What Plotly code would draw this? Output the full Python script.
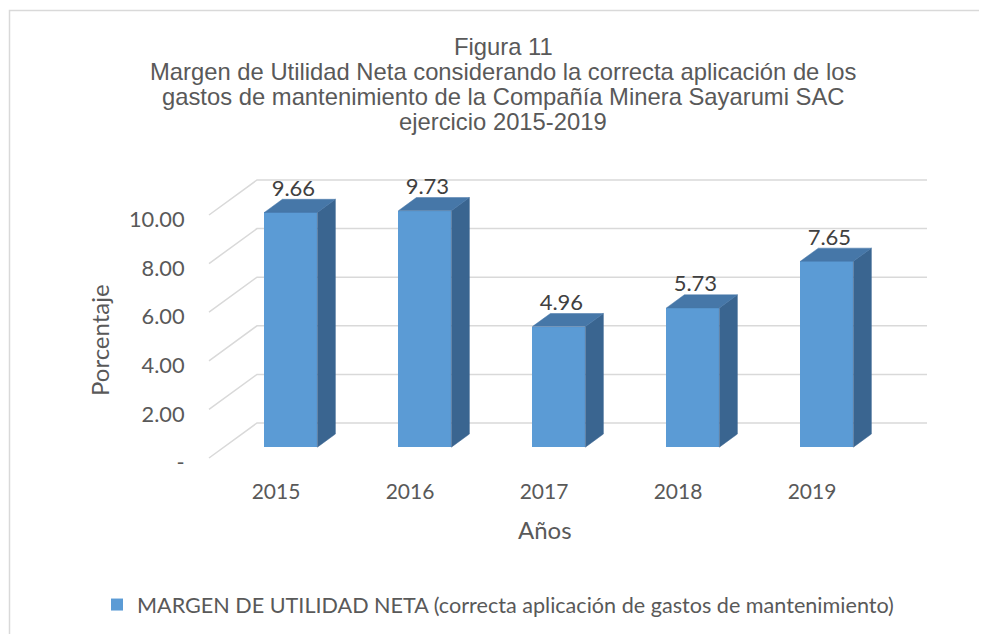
import plotly.graph_objects as go

# ---------------- data ----------------
years = ["2015", "2016", "2017", "2018", "2019"]
margen = [9.66, 9.73, 4.96, 5.73, 7.65]
y_ticks = [0, 2, 4, 6, 8, 10]
y_ticktext = ["-", "2.00", "4.00", "6.00", "8.00", "10.00"]
series_name = "MARGEN DE UTILIDAD NETA (correcta aplicación de gastos de mantenimiento)"
title_lines = [
    "Figura 11",
    "Margen de Utilidad Neta considerando la correcta aplicación de los",
    "gastos de mantenimiento de la Compañía Minera Sayarumi SAC",
    "ejercicio 2015-2019",
]
x_title = "Años"
y_title = "Porcentaje"

# ---------------- geometry / style ----------------
W, H = 987, 634
OFF = 8                           # page body margin
PX_X, PX_Y = 134.0, 24.3          # pixels per category / per unit
X0PX, Y0PX = 209.0, 458.0         # page pixel of floor front-left corner (x=-0.5, y=0)
PL, PR, PT, PB = 194, 948, 150, 466   # plot area, page pixels
DX, DY = 48 / PX_X, 35 / PX_Y     # depth vector in axis units
F0, F1 = 0.31, 0.685              # bar depth fractions
HW = 26.5 / PX_X                  # half bar width

FRONT, SIDE, TOP = "#5B9BD5", "#3A6590", "#4677A8"
GRID = "#D9D9D9"
TXT = "#595959"
LBL = "#404040"
FONT = "Lato"
TFONT = "Liberation Sans"


def xr(px):
    return -0.5 + (px - X0PX) / PX_X


def yr(py):
    return (Y0PX - py) / PX_Y


def paper_x(px):
    return (px - PL) / (PR - PL)


def paper_y(py):
    return (PB - py) / (PB - PT)


n = len(years)
xs = [i + F0 * DX for i in range(n)]
base = F0 * DY
ddx, ddy = (F1 - F0) * DX, (F1 - F0) * DY

fig = go.Figure()
fig.add_trace(go.Bar(
    x=xs, y=margen, base=base, width=2 * HW, name=series_name,
    marker=dict(color=FRONT, line=dict(width=0)), hoverinfo="skip",
))

for i, v in enumerate(margen):
    xl_, xr_ = xs[i] - HW, xs[i] + HW
    fig.add_trace(go.Scatter(
        x=[xr_, xr_ + ddx, xr_ + ddx, xr_, xr_],
        y=[base, base + ddy, base + ddy + v, base + v, base],
        fill="toself", fillcolor=SIDE, mode="lines",
        line=dict(color=SIDE, width=0.5), showlegend=False, hoverinfo="skip",
    ))
    fig.add_trace(go.Scatter(
        x=[xl_, xr_, xr_ + ddx, xl_ + ddx, xl_],
        y=[base + v, base + v, base + v + ddy, base + v + ddy, base + v],
        fill="toself", fillcolor=TOP, mode="lines",
        line=dict(color=TOP, width=0.5), showlegend=False, hoverinfo="skip",
    ))

# data labels
fig.add_trace(go.Scatter(
    x=[x + 2.5 / PX_X for x in xs],
    y=[base + v + ddy + 9 / PX_Y for v in margen],
    text=[f"{v:.2f}" for v in margen], mode="text", textposition="middle center",
    textfont=dict(family=FONT, size=22, color=LBL),
    showlegend=False, hoverinfo="skip", cliponaxis=False,
))

# gridlines (3D walls)
shapes = []
for v in y_ticks:
    shapes.append(dict(
        type="path", xref="x", yref="y", layer="below",
        path=f"M{-0.5},{v} L{-0.5 + DX},{v + DY} L{n - 0.5 + DX},{v + DY}",
        line=dict(color=GRID, width=1.5),
    ))
# chart border
shapes.append(dict(
    type="rect", xref="paper", yref="paper",
    x0=paper_x(9.5), y0=paper_y(10.5), x1=paper_x(1010), y1=paper_y(660),
    line=dict(color=GRID, width=1.5), fillcolor="rgba(0,0,0,0)", layer="below",
))

annotations = []
for k, line in enumerate(title_lines):
    annotations.append(dict(
        text=line, xref="paper", yref="paper", x=paper_x(503), y=paper_y(46.5 + 25 * k),
        xanchor="center", yanchor="middle", showarrow=False,
        font=dict(family=TFONT, size=23.8, color=TXT),
    ))
annotations.append(dict(
    text=x_title, xref="paper", yref="paper", x=paper_x(545), y=paper_y(529),
    xanchor="center", yanchor="middle", showarrow=False,
    font=dict(family=FONT, size=24, color=TXT),
))
annotations.append(dict(
    text=y_title, xref="paper", yref="paper", x=paper_x(99), y=paper_y(340),
    xanchor="center", yanchor="middle", showarrow=False, textangle=-90,
    font=dict(family=FONT, size=24, color=TXT),
))

fig.update_layout(
    width=W, height=H,
    margin=dict(l=PL - OFF, r=W - (PR - OFF), t=PT - OFF, b=H - (PB - OFF), pad=0),
    paper_bgcolor="white", plot_bgcolor="rgba(0,0,0,0)",
    shapes=shapes, annotations=annotations,
    showlegend=True,
    legend=dict(
        orientation="h", xref="container", yref="container",
        x=(498 - OFF) / W, xanchor="center", y=1 - (605 - OFF) / H, yanchor="middle",
        font=dict(family=FONT, size=21.6, color=TXT), itemwidth=30,
    ),
    xaxis=dict(
        range=[xr(PL), xr(PR)], tickvals=list(range(n)), ticktext=years,
        showgrid=False, zeroline=False, showline=False,
        ticks="outside", ticklen=7, tickcolor="rgba(0,0,0,0)",
        tickfont=dict(family=FONT, size=21, color=TXT), fixedrange=True,
    ),
    yaxis=dict(
        range=[yr(PB), yr(PT)], tickvals=[v - 4.5 / PX_Y for v in y_ticks], ticktext=y_ticktext,
        showgrid=False, zeroline=False, showline=False,
        ticks="outside", ticklen=4, tickcolor="rgba(0,0,0,0)",
        tickfont=dict(family=FONT, size=21.8, color=TXT), fixedrange=True,
    ),
    bargap=0,
)

fig.write_html("out.html")
